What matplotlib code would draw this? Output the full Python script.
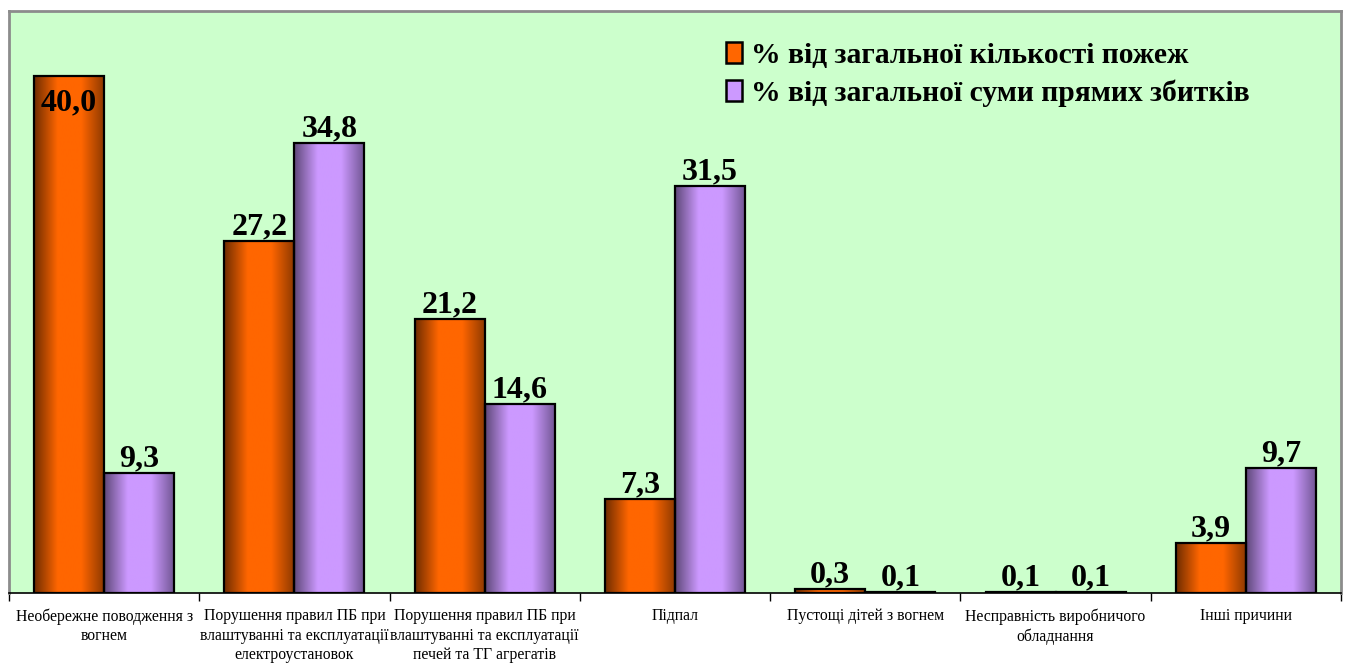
import numpy as np
import matplotlib
matplotlib.use("Agg")
import matplotlib.pyplot as plt
from matplotlib.colors import LinearSegmentedColormap
from matplotlib.patches import Patch

categories = [
    "Необережне поводження з\nвогнем",
    "Порушення правил ПБ при\nвлаштуванні та експлуатації\nелектроустановок",
    "Порушення правил ПБ при\nвлаштуванні та експлуатації\nпечей та ТГ агрегатів",
    "Підпал",
    "Пустощі дітей з вогнем",
    "Несправність виробничого\nобладнання",
    "Інші причини",
]
fires_pct = [40.0, 27.2, 21.2, 7.3, 0.3, 0.1, 3.9]
damage_pct = [9.3, 34.8, 14.6, 31.5, 0.1, 0.1, 9.7]
series_names = ["% від загальної кількості пожеж", "% від загальної суми прямих збитків"]

FAM = 'Liberation Serif'
plt.rcParams['font.family'] = [FAM, 'DejaVu Serif']

fig = plt.figure(figsize=(13.48, 6.66), dpi=100)
ax = fig.add_axes([9/1348, 1-593/666, 1332/1348, 582/666])
ax.set_facecolor('#CCFFCC')

x = np.arange(len(categories))
w = 0.368
cmap_or = LinearSegmentedColormap.from_list('or', ['#6E2C00', '#FF6600', '#FF6600', '#8A3800'])
cmap_pu = LinearSegmentedColormap.from_list('pu', ['#5E4878', '#CC99FF', '#CC99FF', '#6E5490'])
grad = np.linspace(0, 1, 256).reshape(1, -1)

b1 = ax.bar(x - w/2, fires_pct, w, color='#FF6600', edgecolor='black', linewidth=1.6, zorder=3)
b2 = ax.bar(x + w/2, damage_pct, w, color='#CC99FF', edgecolor='black', linewidth=1.6, zorder=3)

for bars, cm in ((b1, cmap_or), (b2, cmap_pu)):
    for p in bars:
        x0, y0 = p.get_x(), p.get_y()
        im = ax.imshow(grad, cmap=cm, aspect='auto', extent=[x0, x0 + p.get_width(), y0, y0 + p.get_height()],
                       zorder=3.5, interpolation='bilinear')
        im.set_clip_path(p)
        p.set_facecolor('none')
        p.set_zorder(4)

ymax = 45
ax.set_xlim(-0.5, len(categories) - 0.5)
ax.set_ylim(0, ymax)

def fmt(v):
    return f"{v:.1f}".replace('.', ',')

for bars, vals in ((b1, fires_pct), (b2, damage_pct)):
    for p, v in zip(bars, vals):
        ax.text(p.get_x() + p.get_width()/2, min(v + 0.5, 37.3), fmt(v), ha='center', va='baseline',
                fontsize=23, fontweight='bold', family=FAM, zorder=6)

ax.set_yticks([])
ax.set_xticks(np.arange(-0.5, len(categories), 1.0))
ax.set_xticklabels([])
ax.set_xticks(x, minor=True)
ax.set_xticklabels(categories, minor=True, fontsize=11.3, family=FAM)
ax.tick_params(axis='x', which='major', direction='out', length=6, width=1, color='black')
ax.tick_params(axis='x', which='minor', length=0, pad=11)
for lab in ax.get_xticklabels(minor=True):
    lab.set_linespacing(1.3)
    lab.set_verticalalignment('top')

for s in ['left', 'top', 'right']:
    ax.spines[s].set_color('#8C8C8C')
    ax.spines[s].set_linewidth(2)
ax.spines['bottom'].set_color('black')
ax.spines['bottom'].set_linewidth(1.2)

handles = [Patch(facecolor='#FF6600', edgecolor='black', linewidth=1.8),
           Patch(facecolor='#CC99FF', edgecolor='black', linewidth=1.8)]
leg = ax.legend(handles, series_names, loc='upper left', bbox_to_anchor=(705/1332, 1 - 19/582), frameon=False,
                prop={'size': 21.3, 'weight': 'bold', 'family': FAM}, handlelength=0.55, handleheight=0.72,
                handletextpad=0.3, labelspacing=0.35, borderaxespad=0)

fig.savefig('out.png', dpi=100, facecolor='white')
